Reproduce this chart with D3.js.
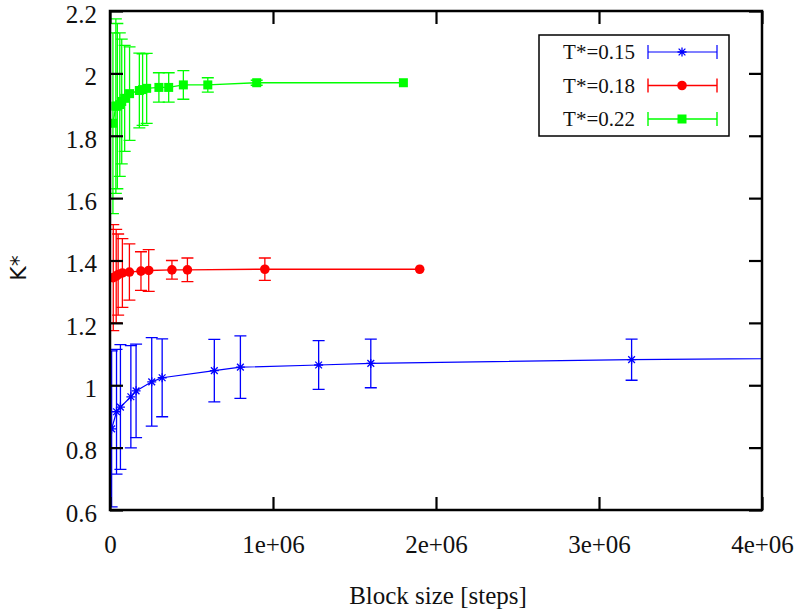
<!DOCTYPE html>
<html><head><meta charset="utf-8">
<script src="https://cdn.jsdelivr.net/npm/d3@7"></script>
<style>
html,body{margin:0;padding:0;background:#fff;}
svg{display:block;}
</style></head>
<body>
<svg id="chart" width="800" height="612"></svg>
<script>
// ---- data ----
const seriesNames = ["T*=0.15", "T*=0.18", "T*=0.22"];
const seriesColors = ["#0000ff", "#ff0000", "#00ff00"];

const blueBlock = [10000, 40000, 64000, 128000, 160000, 256000, 320000, 640000, 800000, 1280000, 1600000, 3200000, 6400000];
const blueK     = [0.86, 0.915, 0.93, 0.963, 0.982, 1.011, 1.024, 1.047, 1.058, 1.065, 1.070, 1.082, 1.095];
const blueErr   = [0.25, 0.20, 0.20, 0.164, 0.15, 0.142, 0.125, 0.10, 0.10, 0.078, 0.078, 0.066, 0];

const redBlock = [20000, 38000, 50000, 76000, 119000, 190000, 237500, 380000, 475000, 950000, 1900000];
const redK     = [1.345, 1.350, 1.355, 1.360, 1.363, 1.366, 1.368, 1.370, 1.370, 1.372, 1.372];
const redErr   = [0.17, 0.15, 0.13, 0.11, 0.09, 0.062, 0.067, 0.03, 0.038, 0.036, 0];

const greenBlock = [18000, 36000, 45000, 60000, 72000, 90000, 120000, 180000, 200000, 225000, 300000, 360000, 450000, 600000, 900000, 1800000];
const greenK     = [1.84, 1.895, 1.895, 1.90, 1.91, 1.92, 1.935, 1.945, 1.948, 1.952, 1.955, 1.955, 1.963, 1.963, 1.970, 1.970];
const greenErr   = [0.29, 0.28, 0.265, 0.23, 0.20, 0.17, 0.15, 0.12, 0.115, 0.112, 0.047, 0.047, 0.046, 0.023, 0.008, 0];

const xTickValues = [0, 1000000, 2000000, 3000000, 4000000];
const xTickLabels = ["0", "1e+06", "2e+06", "3e+06", "4e+06"];
const yTickValues = [0.6, 0.8, 1.0, 1.2, 1.4, 1.6, 1.8, 2.0, 2.2];
const yTickLabels = ["0.6", "0.8", "1", "1.2", "1.4", "1.6", "1.8", "2", "2.2"];
const xTitle = "Block size [steps]";
const yTitle = "K*";

// ---- chart ----
const svg = d3.select("#chart");
const L = 110, R = 762, T = 11, B = 510;
const x = d3.scaleLinear().domain([0, 4000000]).range([L, R]);
const y = d3.scaleLinear().domain([0.6, 2.2]).range([B, T]);
const serif = "'Liberation Serif','Times New Roman',serif";

svg.append("defs").append("clipPath").attr("id", "clip")
  .append("rect").attr("x", L).attr("y", T).attr("width", R - L).attr("height", B - T);

function mk(block, k, err) { return block.map((b, i) => ({b, k: k[i], e: err[i]})); }
const series = [
  {name: seriesNames[0], color: seriesColors[0], data: mk(blueBlock, blueK, blueErr), marker: "star", lw: 1.2},
  {name: seriesNames[1], color: seriesColors[1], data: mk(redBlock, redK, redErr), marker: "circle", lw: 1.4},
  {name: seriesNames[2], color: seriesColors[2], data: mk(greenBlock, greenK, greenErr), marker: "square", lw: 1.4}
];

function drawMarker(g, type, cx, cy, color) {
  if (type === "circle") {
    g.append("circle").attr("cx", cx).attr("cy", cy).attr("r", 4.8).attr("fill", color);
  } else if (type === "square") {
    g.append("rect").attr("x", cx - 4.5).attr("y", cy - 4.5).attr("width", 9).attr("height", 9).attr("fill", color);
  } else {
    const s = 4.5;
    g.append("path").attr("d",
      `M${cx - s},${cy}H${cx + s}M${cx},${cy - s}V${cy + s}M${cx - s * 0.75},${cy - s * 0.75}L${cx + s * 0.75},${cy + s * 0.75}M${cx - s * 0.75},${cy + s * 0.75}L${cx + s * 0.75},${cy - s * 0.75}`)
      .attr("stroke", color).attr("stroke-width", 1.3).attr("fill", "none");
  }
}

const plot = svg.append("g");
const line = d3.line().x(d => x(d.b)).y(d => y(d.k));
const capW = 6;

series.forEach(s => {
  const g = plot.append("g");
  g.append("path").datum(s.data).attr("d", line).attr("clip-path", "url(#clip)")
    .attr("fill", "none").attr("stroke", s.color).attr("stroke-width", s.lw);
  const eg = g.append("g").attr("clip-path", "url(#clip)");
  s.data.filter(d => d.e > 0).forEach(d => {
    const cx = x(d.b), y1 = y(d.k + d.e), y2 = y(d.k - d.e);
    eg.append("path").attr("d", `M${cx},${y1}V${y2}M${cx - capW},${y1}H${cx + capW}M${cx - capW},${y2}H${cx + capW}`)
      .attr("stroke", s.color).attr("stroke-width", 1.3).attr("fill", "none");
  });
  const mg = g.append("g").attr("clip-path", "url(#clip)");
  s.data.forEach(d => drawMarker(mg, s.marker, x(d.b), y(d.k), s.color));
});

// axes (ticks inward, mirrored)
const yIdx = v => yTickValues.indexOf(v);
const xIdx = v => xTickValues.indexOf(v);
const axL = svg.append("g").attr("transform", `translate(${L},0)`)
  .call(d3.axisLeft(y).tickValues(yTickValues).tickFormat(v => yTickLabels[yIdx(v)]).tickSize(-13).tickPadding(13));
const axR = svg.append("g").attr("transform", `translate(${R},0)`)
  .call(d3.axisRight(y).tickValues(yTickValues).tickFormat("").tickSize(-13));
const axB = svg.append("g").attr("transform", `translate(0,${B})`)
  .call(d3.axisBottom(x).tickValues(xTickValues).tickFormat(v => xTickLabels[xIdx(v)]).tickSize(-13).tickPadding(25));
const axT = svg.append("g").attr("transform", `translate(0,${T})`)
  .call(d3.axisTop(x).tickValues(xTickValues).tickFormat("").tickSize(-13));
[axL, axR, axB, axT].forEach(a => {
  a.select(".domain").remove();
  a.selectAll(".tick line").attr("stroke", "#000").attr("stroke-width", 2.2);
  a.selectAll("text").attr("font-family", serif).attr("font-size", 25).attr("fill", "#111");
});
axL.selectAll("text").attr("dy", "0.45em");

// frame
svg.append("rect").attr("x", L).attr("y", T).attr("width", R - L).attr("height", B - T)
  .attr("fill", "none").attr("stroke", "#000").attr("stroke-width", 2.5);

// titles
svg.append("text").attr("x", 438).attr("y", 604).attr("text-anchor", "middle")
  .attr("font-family", serif).attr("font-size", 25).attr("fill", "#111").text(xTitle);
svg.append("text").attr("transform", "translate(26,268) rotate(-90)").attr("text-anchor", "middle")
  .attr("font-family", "'DejaVu Sans',sans-serif").attr("font-size", 22).attr("fill", "#111").text(yTitle);

// legend
const lg = svg.append("g");
lg.append("rect").attr("x", 539).attr("y", 35).attr("width", 190).attr("height", 101)
  .attr("fill", "#fff").attr("stroke", "#000").attr("stroke-width", 1.5);
series.forEach((s, i) => {
  const cy = 52 + i * 33.5;
  lg.append("text").attr("x", 635).attr("y", cy).attr("dy", "0.35em").attr("text-anchor", "end")
    .attr("font-family", serif).attr("font-size", 21).attr("fill", "#111").text(s.name);
  lg.append("path").attr("d", `M648,${cy}H717M648,${cy - 7}V${cy + 7}M717,${cy - 7}V${cy + 7}`)
    .attr("stroke", s.color).attr("stroke-width", s.lw).attr("fill", "none");
  drawMarker(lg, s.marker, 682, cy, s.color);
});
</script>
</body></html>
